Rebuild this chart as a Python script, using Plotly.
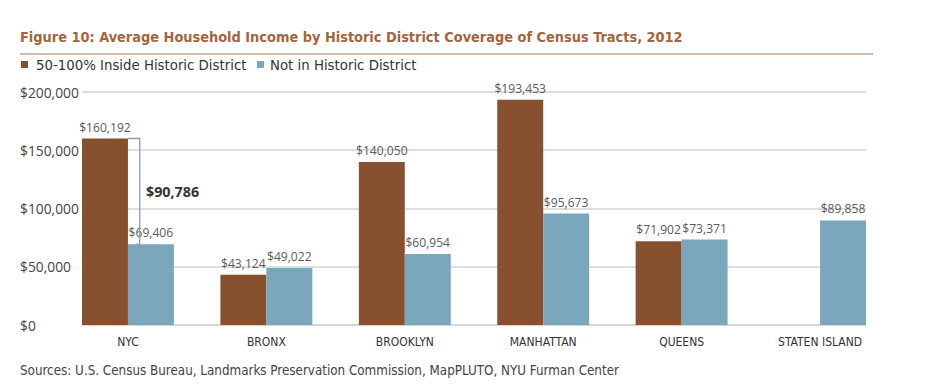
import plotly.graph_objects as go

categories = ["NYC", "BRONX", "BROOKLYN", "MANHATTAN", "QUEENS", "STATEN ISLAND"]
inside_hd = [160192, 43124, 140050, 193453, 71902, None]
not_hd = [69406, 49022, 60954, 95673, 73371, 89858]
y_ticks = [0, 50000, 100000, 150000, 200000]
y_tick_labels = ["$0", "$50,000", "$100,000", "$150,000", "$200,000"]
series_names = ["50-100% Inside Historic District", "Not in Historic District"]

BROWN = "#87502f"
BLUE = "#7ba7bd"
NARROW = "DejaVu Sans Condensed, sans-serif"
NUM = "Open Sans, Lato, sans-serif"

# page body has an 8px margin; work in target-page pixels and shift
OFF = 8
W, H = 929 - OFF, 385 - OFF
L = 82 - OFF
T = 91 - OFF
R = W - (866 - OFF)
B = H - (325 - OFF)
pw, ph = W - L - R, H - T - B

def px_to_paper_x(px):
    return (px - OFF - L) / pw

def px_to_paper_y(py):
    return (H - B - (py - OFF)) / ph

fig = go.Figure()
for name, vals, col in [(series_names[0], inside_hd, BROWN), (series_names[1], not_hd, BLUE)]:
    fig.add_trace(go.Bar(
        x=categories, y=vals, name=name, marker=dict(color=col, line=dict(width=0)),
        texttemplate="$%{y:,.0f}", textposition="outside", cliponaxis=False,
        constraintext="none",
        textfont=dict(family=NUM, size=12.1, color="#5a5a5a"),
        hoverinfo="skip", showlegend=False,
    ))

annotations = []
shapes = []
# title
annotations.append(dict(
    text="Figure 10: Average Household Income by Historic District Coverage of Census Tracts, 2012",
    xref="paper", yref="paper", x=px_to_paper_x(18), y=px_to_paper_y(37),
    xanchor="left", yanchor="middle", showarrow=False,
    font=dict(family=NARROW, size=14.4, color="#a2653f", weight="bold")))
# legend (manual)
legend_x = [(21, 36), (257, 270)]
for (sx, tx), name, col in zip(legend_x, series_names, [BROWN, BLUE]):
    shapes.append(dict(type="rect", xref="paper", yref="paper",
                       x0=px_to_paper_x(sx), x1=px_to_paper_x(sx + 7),
                       y0=px_to_paper_y(68), y1=px_to_paper_y(61),
                       fillcolor=col, line=dict(width=0)))
    annotations.append(dict(
        text=name, xref="paper", yref="paper", x=px_to_paper_x(tx - 2), y=px_to_paper_y(65),
        xanchor="left", yanchor="middle", showarrow=False,
        font=dict(family=NARROW, size=14.8, color="#333333")))
# sources
annotations.append(dict(
    text="Sources: U.S. Census Bureau, Landmarks Preservation Commission, MapPLUTO, NYU Furman Center",
    xref="paper", yref="paper", x=px_to_paper_x(18), y=px_to_paper_y(370),
    xanchor="left", yanchor="middle", showarrow=False,
    font=dict(family=NARROW, size=13.3, color="#444444")))
# y tick labels (left aligned)
for v, lab in zip(y_ticks, y_tick_labels):
    annotations.append(dict(
        text=lab, xref="paper", yref="y", x=px_to_paper_x(18), y=v,
        xanchor="left", yanchor="middle", showarrow=False,
        font=dict(family=NUM, size=13.8, color="#444444")))
# difference annotation
diff = inside_hd[0] - not_hd[0]
annotations.append(dict(
    text=f"<b>${diff:,}</b>", xref="x", yref="y", x=0.115, y=(inside_hd[0] + not_hd[0]) / 2,
    xanchor="left", yanchor="middle", showarrow=False,
    font=dict(family=NUM, size=14.3, color="#333333")))

shapes += [
    dict(type="line", xref="paper", yref="paper",
         x0=px_to_paper_x(20), x1=px_to_paper_x(873), y0=px_to_paper_y(54), y1=px_to_paper_y(54),
         line=dict(color="#cdbcab", width=2)),
    dict(type="path", xref="x", yref="y",
         path=f"M 0,{inside_hd[0]} L 0.085,{inside_hd[0]} L 0.085,{not_hd[0]} L 0.06,{not_hd[0]}",
         line=dict(color="#999999", width=1.3)),
]

fig.update_layout(
    width=W, height=H, margin=dict(l=L, r=R, t=T, b=B, autoexpand=False),
    paper_bgcolor="white", plot_bgcolor="white",
    barmode="group", bargap=0.336, bargroupgap=0,
    showlegend=False,
    xaxis=dict(range=[-0.332, 5.332], showgrid=False, zeroline=False, showline=False,
               ticks="", tickfont=dict(family=NARROW, size=12, color="#333333"),
               ticklabelstandoff=8),
    yaxis=dict(range=[0, 201000], tickvals=y_ticks, showticklabels=False,
               showgrid=True, gridcolor="#dedede", gridwidth=1.5,
               zeroline=True, zerolinecolor="#d6d6d6", zerolinewidth=2, showline=False),
    annotations=annotations, shapes=shapes,
)

fig.write_html("out.html")
